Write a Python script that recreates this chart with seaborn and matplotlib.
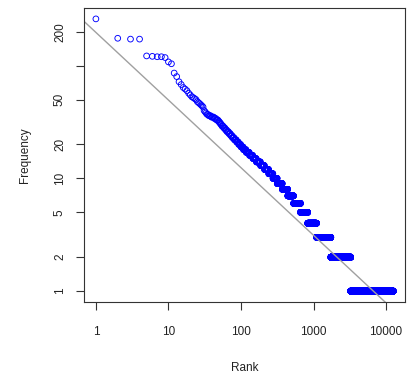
import numpy as np
import pandas as pd
import matplotlib
matplotlib.use("Agg")
import matplotlib.pyplot as plt
import seaborn as sns

# frequencies of the 30 most frequent words (rank 1..30)
top_freqs = [260, 175, 172, 172, 122, 121, 120, 120, 118, 108,
             104, 86, 80, 72, 68, 64, 62, 60, 57, 55,
             53, 52, 51, 50, 48, 47, 46, 45, 44, 43]

# remaining words: frequency level and how many words have it
low_levels = [40, 39, 38, 37, 36, 35, 34, 33, 32, 31,
              30, 29, 28, 27, 26, 25, 24, 23, 22, 21,
              20, 19, 18, 17, 16, 15, 14, 13, 12, 11,
              10, 9, 8, 7, 6, 5, 4, 3, 2, 1]
low_counts = [1, 1, 1, 2, 3, 4, 3, 3, 2, 2,
              2, 3, 3, 3, 4, 4, 4, 5, 6, 6,
              7, 8, 10, 13, 15, 17, 23, 25, 30, 35,
              40, 55, 70, 90, 130, 170, 270, 630, 1520, 9250]

# reference line: log10(freq) = line_intercept + line_slope * log10(rank)
line_intercept = 2.295
line_slope = -0.600

x_ticks = [1, 10, 100, 1000, 10000]
y_ticks = [1, 2, 5, 10, 20, 50, 100, 200]
y_ticklabels = ["1", "2", "5", "10", "20", "50", "", "200"]

freq = np.concatenate([top_freqs, np.repeat(low_levels, low_counts)])
df = pd.DataFrame({"Rank": np.arange(1, len(freq) + 1), "Frequency": freq})

sns.set_style("ticks")
plt.rcParams["font.family"] = ["Liberation Sans", "DejaVu Sans"]

fig = plt.figure(figsize=(4.07, 3.79), dpi=100)
ax = fig.add_axes([84 / 407, 1 - 302 / 379, 321 / 407, 294 / 379])

sns.scatterplot(data=df, x="Rank", y="Frequency", ax=ax, marker="o",
                s=17, color="blue", facecolor="none", edgecolor="blue",
                linewidth=0.65, legend=False)
ax.set_xscale("log")
ax.set_yscale("log")

# R-style 4% padding of the log range
lx = np.log10(df["Rank"].agg(["min", "max"]).values)
ly = np.log10(df["Frequency"].agg(["min", "max"]).values)
dx = 0.04 * (lx[1] - lx[0])
dy = 0.04 * (ly[1] - ly[0])
ax.set_xlim(10 ** (lx[0] - dx), 10 ** (lx[1] + dx))
ax.set_ylim(10 ** (ly[0] - dy), 10 ** (ly[1] + dy))

xs = np.array([10 ** (lx[0] - 2 * dx), 10 ** (lx[1] + 2 * dx)])
ax.plot(xs, 10 ** (line_intercept + line_slope * np.log10(xs)),
        color="#a0a0a0", lw=1)

ax.set_xticks(x_ticks)
ax.set_xticklabels([str(t) for t in x_ticks])
ax.set_yticks(y_ticks)
ax.set_yticklabels(y_ticklabels)
ax.minorticks_off()
ax.tick_params(axis="both", length=6, width=0.8, color="#333333",
               labelsize=8.5, labelcolor="#222222")
ax.tick_params(axis="x", pad=11)
ax.tick_params(axis="y", pad=7, labelrotation=90)
for lab in ax.get_yticklabels():
    lab.set_va("center")

for sp in ax.spines.values():
    sp.set_visible(True)
    sp.set_color("#333333")
    sp.set_linewidth(0.8)

ax.set_xlabel("Rank", fontsize=8.5, color="#222222")
ax.set_ylabel("Frequency", fontsize=8.5, color="#222222")
ax.xaxis.set_label_coords(0.5, -0.205)
ax.yaxis.set_label_coords(-0.165, 0.5)

fig.savefig("out.png", dpi=100, facecolor="white")
